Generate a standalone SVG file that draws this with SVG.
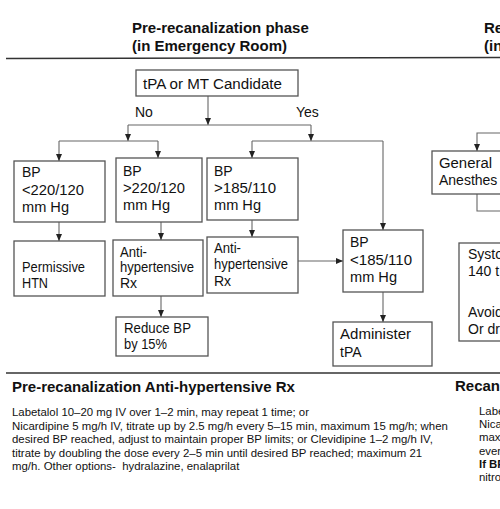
<svg xmlns="http://www.w3.org/2000/svg" width="500" height="509" viewBox="0 0 500 509">
<defs>
<marker id="ah" markerUnits="userSpaceOnUse" markerWidth="7" markerHeight="7" viewBox="0 0 7 7" refX="7" refY="3.5" orient="auto">
<path d="M0,0.5 L7,3.5 L0,6.5 Z" fill="#222"/>
</marker>
</defs>
<style>
.bx{fill:#fff;stroke:#555;stroke-width:1.3}
.t{font-family:"Liberation Sans",Arial,sans-serif;font-size:14px;fill:#111}
.h{font-family:"Liberation Sans",Arial,sans-serif;font-size:15px;font-weight:bold;fill:#111}
.b{font-family:"Liberation Sans",Arial,sans-serif;font-size:11.4px;fill:#111}
.sep{stroke:#333;stroke-width:1.5}
.c{fill:none;stroke:#666;stroke-width:1.1}
.ca{fill:none;stroke:#666;stroke-width:1.1;marker-end:url(#ah)}
</style>
<rect width="500" height="509" fill="#fff"/>
<g id="headers">
<text class="h" x="132" y="33">Pre-recanalization phase</text>
<text class="h" x="132" y="51">(in Emergency Room)</text>
<text class="h" x="484" y="33">Re</text>
<text class="h" x="484" y="51">(in</text>
<line class="sep" x1="6" y1="58.5" x2="500" y2="57.5"/>
<line class="sep" x1="6" y1="373" x2="500" y2="373"/>
</g>
<g id="connectors">
<path class="ca" d="M208,96 V125"/>
<path class="c" d="M128,125 H311"/>
<path class="ca" d="M128,125 V141"/>
<path class="ca" d="M311,125 V141"/>
<path class="c" d="M59,141 H158"/>
<path class="ca" d="M59,141 V161"/>
<path class="ca" d="M158,141 V158"/>
<path class="c" d="M252,141 H383"/>
<path class="ca" d="M252,141 V158"/>
<path class="ca" d="M383,141 V230"/>
<path class="ca" d="M59,222 V241"/>
<path class="ca" d="M161,222 V240"/>
<path class="ca" d="M252,220 V237"/>
<path class="ca" d="M298,261 H343"/>
<path class="ca" d="M383,292 V322"/>
<path class="ca" d="M161,296 V317"/>
<path class="ca" d="M500,133 H477 V151"/>
<path class="c" d="M477,194 V211 H500"/>
</g>
<g id="labels">
<text class="t" x="135" y="117">No</text>
<text class="t" x="296" y="117">Yes</text>
</g>
<g id="candidate">
<rect class="bx" x="136" y="70" width="162" height="26"/>
<text class="t" x="143" y="89" textLength="139" lengthAdjust="spacingAndGlyphs">tPA or MT Candidate</text>
</g>
<g id="bp-lt220">
<rect class="bx" x="14" y="161" width="91" height="61"/>
<text class="t" x="22" y="177">BP</text>
<text class="t" x="22" y="195" textLength="62" lengthAdjust="spacingAndGlyphs">&lt;220/120</text>
<text class="t" x="22" y="212" textLength="47" lengthAdjust="spacingAndGlyphs">mm Hg</text>
</g>
<g id="bp-gt220">
<rect class="bx" x="116" y="158" width="86" height="64"/>
<text class="t" x="123" y="176">BP</text>
<text class="t" x="123" y="193" textLength="62" lengthAdjust="spacingAndGlyphs">&gt;220/120</text>
<text class="t" x="123" y="210" textLength="47" lengthAdjust="spacingAndGlyphs">mm Hg</text>
</g>
<g id="bp-gt185">
<rect class="bx" x="207" y="158" width="91" height="62"/>
<text class="t" x="214" y="176">BP</text>
<text class="t" x="214" y="193" textLength="62" lengthAdjust="spacingAndGlyphs">&gt;185/110</text>
<text class="t" x="214" y="210" textLength="47" lengthAdjust="spacingAndGlyphs">mm Hg</text>
</g>
<g id="permissive">
<rect class="bx" x="14" y="241" width="91" height="55"/>
<text class="t" x="22" y="272" textLength="63" lengthAdjust="spacingAndGlyphs">Permissive</text>
<text class="t" x="22" y="288" textLength="26" lengthAdjust="spacingAndGlyphs">HTN</text>
</g>
<g id="antihtn-1">
<rect class="bx" x="113" y="240" width="90" height="56"/>
<text class="t" x="120" y="257" textLength="27" lengthAdjust="spacingAndGlyphs">Anti-</text>
<text class="t" x="120" y="272" textLength="74" lengthAdjust="spacingAndGlyphs">hypertensive</text>
<text class="t" x="120" y="288">Rx</text>
</g>
<g id="antihtn-2">
<rect class="bx" x="207" y="237" width="91" height="56"/>
<text class="t" x="214" y="253" textLength="27" lengthAdjust="spacingAndGlyphs">Anti-</text>
<text class="t" x="214" y="269" textLength="74" lengthAdjust="spacingAndGlyphs">hypertensive</text>
<text class="t" x="214" y="286">Rx</text>
</g>
<g id="bp-lt185">
<rect class="bx" x="343" y="230" width="80" height="62"/>
<text class="t" x="350" y="247">BP</text>
<text class="t" x="350" y="265" textLength="62" lengthAdjust="spacingAndGlyphs">&lt;185/110</text>
<text class="t" x="350" y="282" textLength="47" lengthAdjust="spacingAndGlyphs">mm Hg</text>
</g>
<g id="reduce">
<rect class="bx" x="116" y="317" width="92" height="39"/>
<text class="t" x="124" y="333" textLength="67" lengthAdjust="spacingAndGlyphs">Reduce BP</text>
<text class="t" x="124" y="349" textLength="43" lengthAdjust="spacingAndGlyphs">by 15%</text>
</g>
<g id="administer">
<rect class="bx" x="333" y="322" width="99" height="44"/>
<text class="t" x="340" y="339" textLength="71" lengthAdjust="spacingAndGlyphs">Administer</text>
<text class="t" x="340" y="357">tPA</text>
</g>
<g id="general">
<rect class="bx" x="432" y="151" width="80" height="43"/>
<text class="t" x="439" y="168" textLength="53" lengthAdjust="spacingAndGlyphs">General</text>
<text class="t" x="439" y="185">Anesthes</text>
</g>
<g id="systolic">
<rect class="bx" x="459" y="243" width="60" height="98"/>
<text class="t" x="468" y="259">Systo</text>
<text class="t" x="468" y="276">140 t</text>
<text class="t" x="468" y="317">Avoid</text>
<text class="t" x="468" y="334">Or dr</text>
</g>
<g id="rx-text">
<text class="h" x="12" y="392">Pre-recanalization Anti-hypertensive Rx</text>
<text class="b" x="12" y="416">Labetalol 10–20 mg IV over 1–2 min, may repeat 1 time; or</text>
<text class="b" x="12" y="429.5">Nicardipine 5 mg/h IV, titrate up by 2.5 mg/h every 5–15 min, maximum 15 mg/h; when</text>
<text class="b" x="12" y="443">desired BP reached, adjust to maintain proper BP limits; or Clevidipine 1–2 mg/h IV,</text>
<text class="b" x="12" y="456.5">titrate by doubling the dose every 2–5 min until desired BP reached; maximum 21</text>
<text class="b" x="12" y="470" xml:space="preserve">mg/h. Other options-  hydralazine, enalaprilat</text>
</g>
<g id="recan-text">
<text class="h" x="455" y="391">Recan</text>
<text class="b" x="479" y="415">Labe</text>
<text class="b" x="479" y="428">Nica</text>
<text class="b" x="479" y="441">max</text>
<text class="b" x="479" y="455">ever</text>
<text class="b" x="479" y="468" font-weight="bold">If BP</text>
<text class="b" x="479" y="481">nitro</text>
</g>
</svg>
